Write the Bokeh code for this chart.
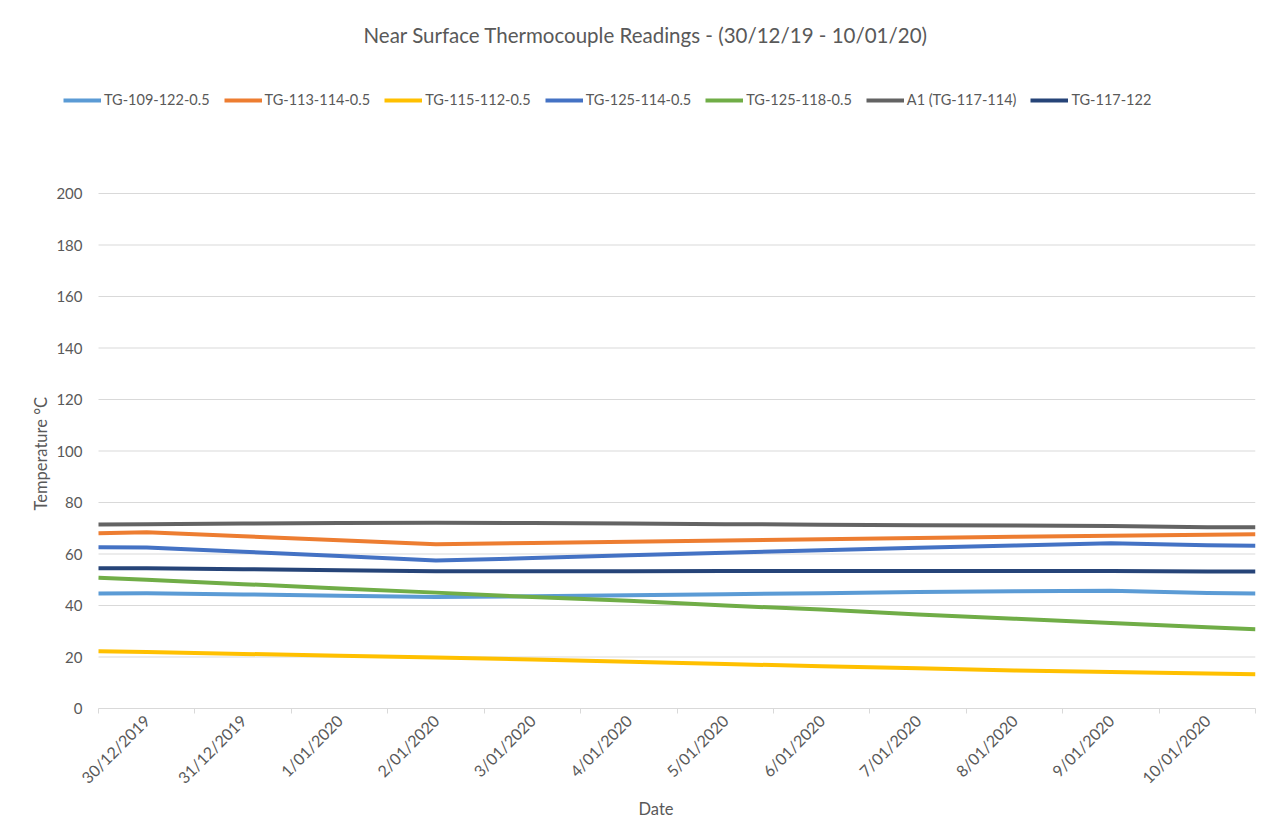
import math
from bokeh.plotting import figure
from bokeh.models import Legend, LegendItem, FixedTicker, Range1d, Title, LinearAxis
from bokeh.embed import file_html
from bokeh.resources import INLINE

# ---- data ----
dates = ["30/12/2019", "31/12/2019", "1/01/2020", "2/01/2020", "3/01/2020", "4/01/2020",
         "5/01/2020", "6/01/2020", "7/01/2020", "8/01/2020", "9/01/2020", "10/01/2020"]
# reading time, in days from 30/12/2019 00:00
reading_day = [0, 0.5, 1.5, 2.5, 3.5, 4.5, 5.5, 6.5, 7.5, 8.5, 9.5, 10.5, 11.5, 12]

tg_109_122 = [44.7, 44.8, 44.3, 43.8, 43.3, 43.6, 44.0, 44.4, 44.8, 45.2, 45.5, 45.7, 44.9, 44.7]
tg_113_114 = [68.1, 68.4, 66.9, 65.3, 63.8, 64.3, 64.8, 65.2, 65.7, 66.2, 66.7, 67.1, 67.5, 67.7]
tg_115_112 = [22.2, 21.9, 21.2, 20.5, 19.8, 19.0, 18.2, 17.3, 16.4, 15.6, 14.8, 14.2, 13.6, 13.3]
tg_125_114 = [62.6, 62.5, 60.9, 59.2, 57.5, 58.4, 59.5, 60.5, 61.5, 62.4, 63.3, 64.2, 63.4, 63.2]
tg_125_118 = [50.8, 50.0, 48.3, 46.6, 45.0, 43.3, 41.8, 40.0, 38.4, 36.5, 34.9, 33.2, 31.6, 30.8]
a1_117_114 = [71.5, 71.6, 71.8, 72.0, 72.1, 72.0, 71.8, 71.6, 71.4, 71.2, 71.1, 70.9, 70.4, 70.4]
tg_117_122 = [54.5, 54.5, 54.1, 53.7, 53.3, 53.3, 53.3, 53.4, 53.4, 53.4, 53.4, 53.4, 53.2, 53.2]

series_names = ["TG-109-122-0.5", "TG-113-114-0.5", "TG-115-112-0.5", "TG-125-114-0.5",
                "TG-125-118-0.5", "A1 (TG-117-114)", "TG-117-122"]
series_values = [tg_109_122, tg_113_114, tg_115_112, tg_125_114, tg_125_118, a1_117_114, tg_117_122]
series_colors = ["#5B9BD5", "#ED7D31", "#FFC000", "#4472C4", "#70AD47", "#636363", "#264478"]

y_ticks = [0, 20, 40, 60, 80, 100, 120, 140, 160, 180, 200]
title_text = "Near Surface Thermocouple Readings - (30/12/19 - 10/01/20)"
y_title = "Temperature °C"
x_title = "Date"

FONT = "Lato"
GREY = "#595959"
GRID = "#d9d9d9"

# layout (pixels)
W, H = 1280, 822
FRAME_L, FRAME_R, FRAME_T, FRAME_B = 56, 1255, 51, 708   # drawing frame (includes legend room)
PLOT_L = 98                  # pixel column of the category axis start
AXIS_TOP_PX = 193            # pixel row of the 200 gridline
LABEL_GAP = 16               # gap between y tick labels and the category axis start
n_cat = len(dates)
x_start = -n_cat * (PLOT_L - FRAME_L) / (FRAME_R - PLOT_L)
y_top = max(y_ticks) * (FRAME_B - FRAME_T) / (FRAME_B - AXIS_TOP_PX)

p = figure(width=W, height=H, x_range=Range1d(x_start, n_cat), y_range=Range1d(0, y_top),
           output_backend="svg", toolbar_location=None,
           min_border_left=FRAME_L, min_border_right=W - FRAME_R,
           min_border_top=FRAME_T, min_border_bottom=H - FRAME_B,
           background_fill_color="white", border_fill_color="white")
p.outline_line_color = None

p.title.text = title_text
p.title.align = "left"
p.title.offset = 363 - FRAME_L
p.title.standoff = 10
p.title.text_font = FONT
p.title.text_font_size = "20.5px"
p.title.text_font_style = "normal"
p.title.text_color = GREY

# horizontal gridlines limited to the category span
p.xgrid.grid_line_color = None
p.ygrid.grid_line_color = None
p.segment(x0=[0] * len(y_ticks), y0=y_ticks, x1=[n_cat] * len(y_ticks), y1=y_ticks,
          line_color=GRID, line_width=1)

items = []
for name, vals, col in zip(series_names, series_values, series_colors):
    r = p.line(reading_day, vals, line_color=col, line_width=4, line_join="round")
    items.append(LegendItem(label=name, renderers=[r]))

legend = Legend(items=items, orientation="horizontal", location=(63 - FRAME_L, 600),
                glyph_width=38, glyph_height=14, label_standoff=3, spacing=14,
                label_text_font=FONT, label_text_font_size="14.5px", label_text_color=GREY,
                background_fill_alpha=0, border_line_color=None, padding=0, margin=0)
p.add_layout(legend, "center")

# x axis
centers = [i + 0.5 for i in range(n_cat)]
bounds = [i for i in range(n_cat + 1)]
xa = p.xaxis[0]
xa.bounds = (0, n_cat)
xa.ticker = FixedTicker(ticks=centers, minor_ticks=bounds)
xa.major_label_overrides = {c: d for c, d in zip(centers, dates)}
xa.major_label_orientation = math.pi / 4
xa.major_tick_line_color = None
xa.major_tick_out = 0
xa.major_tick_in = 0
xa.minor_tick_line_color = GRID
xa.minor_tick_out = 5
xa.minor_tick_in = 0
xa.axis_line_color = GRID
xa.major_label_text_font = FONT
xa.major_label_text_font_size = "16px"
xa.major_label_text_color = GREY
xa.major_label_standoff = 4
xa.axis_label = x_title
xa.axis_label_text_font = FONT
xa.axis_label_text_font_size = "16.5px"
xa.axis_label_text_font_style = "normal"
xa.axis_label_text_color = GREY
xa.axis_label_text_align = "left"
xa.axis_label_standoff = 2

def style_y(ax):
    ax.axis_line_color = None
    ax.major_tick_line_color = None
    ax.minor_tick_line_color = None
    ax.major_tick_out = 0
    ax.major_tick_in = 0
    ax.major_label_text_font = FONT
    ax.major_label_text_font_size = "15px"
    ax.major_label_text_color = GREY

# y axis, pinned at the start of the categories (ticks above the baseline)
ya = p.yaxis[0]
ya.fixed_location = 0
ya.ticker = FixedTicker(ticks=y_ticks[1:])
style_y(ya)
ya.major_label_standoff = LABEL_GAP

# baseline label, drawn from the side panel so it is not clipped by the frame
ya0 = LinearAxis(ticker=FixedTicker(ticks=y_ticks[:1]))
style_y(ya0)
ya0.major_label_standoff = LABEL_GAP - (PLOT_L - FRAME_L)
p.add_layout(ya0, "left")

# y-axis title, centred on the 0-200 span
ytitle = Title(text=y_title, align="left", offset=198, standoff=12,
               text_font=FONT, text_font_size="16.5px", text_font_style="normal", text_color=GREY)
p.add_layout(ytitle, "left")

open("out.html", "w").write(file_html(p, INLINE))
